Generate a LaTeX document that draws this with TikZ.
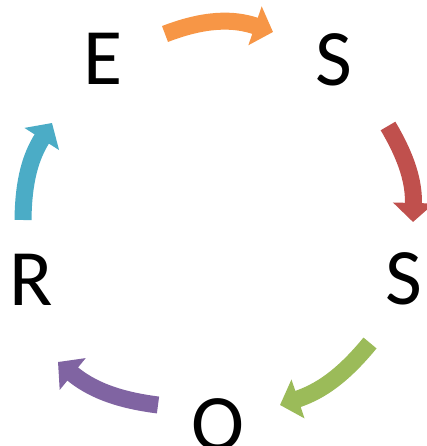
\documentclass[tikz,border=0pt]{standalone}
\usepackage{fontspec}
\setmainfont{Carlito}
\usepackage{xcolor}
\usetikzlibrary{arrows.meta}
\definecolor{myorange}{RGB}{247,150,70}
\definecolor{myred}{RGB}{192,80,77}
\definecolor{mygreen}{RGB}{155,187,89}
\definecolor{mypurple}{RGB}{128,100,162}
\definecolor{myblue}{RGB}{75,172,198}
\tikzset{
  letter/.style={anchor=base, inner sep=0pt, font=\fontsize{80}{90}\selectfont},
  cyclearrow/.style={line width=17pt, -{Triangle[length=19pt, width=40pt]}, bend left=#1},
  cyclearrow/.default=16
}
\begin{document}
\begin{tikzpicture}[x=1pt, y=1pt]
    \useasboundingbox (0,0) rectangle (427,446);
    \clip (0,0) rectangle (427,446);
    % letters
    \node[letter] (e) at (103,361) {E};
    \node[letter] (s1) at (334,360) {S};
    \node[letter] (s2) at (404,141) {S};
    \node[letter] (o) at (218,-5) {O};
    \node[letter] (r) at (31,140) {R};
    % arrow ends
    \coordinate (ea) at (165,412); \coordinate (eb) at (273,414);
    \coordinate (sa) at (388,320); \coordinate (sb) at (413,224);
    \coordinate (ta) at (370,103); \coordinate (tb) at (280,41);
    \coordinate (oa) at (158,41);  \coordinate (ob) at (58,84);
    \coordinate (ra) at (23,226);  \coordinate (rb) at (52,323);
    \draw[cyclearrow=20, myorange] (ea) to (eb);
    \draw[cyclearrow, myred] (sa) to (sb);
    \draw[cyclearrow, mygreen] (ta) to (tb);
    \draw[cyclearrow, mypurple] (oa) to (ob);
    \draw[cyclearrow, myblue] (ra) to (rb);
\end{tikzpicture}
\end{document}
